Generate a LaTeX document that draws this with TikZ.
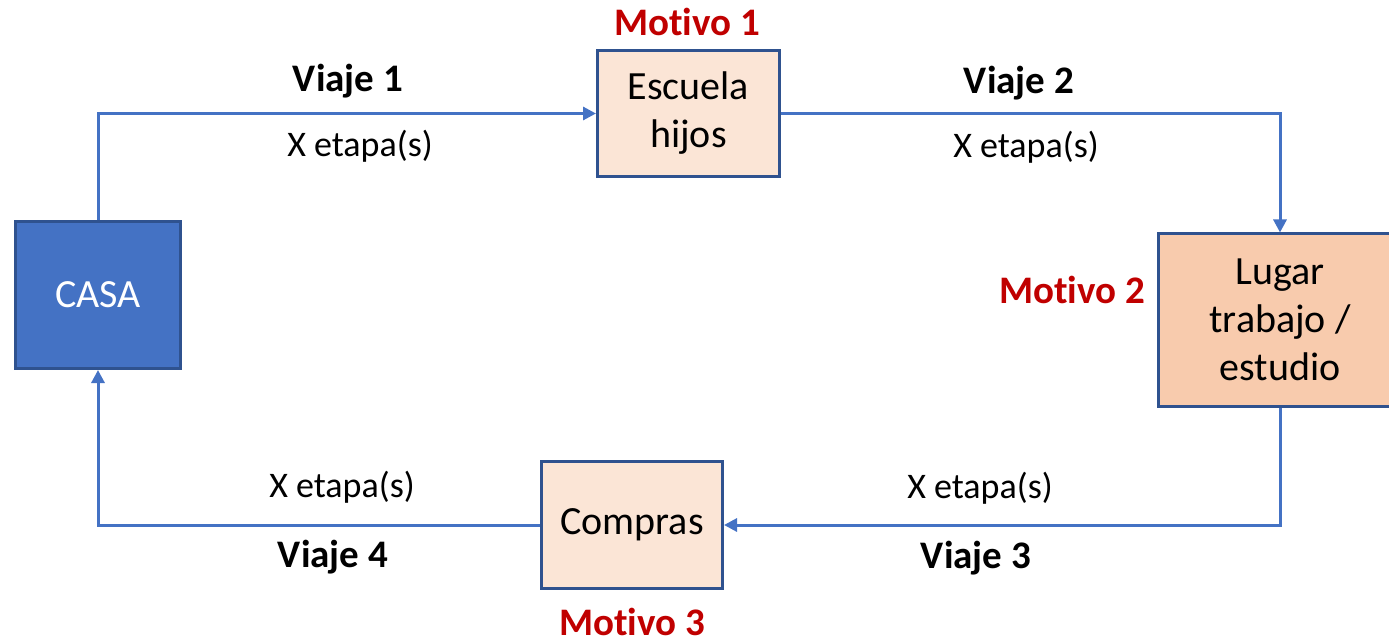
\documentclass[tikz,border=0pt]{standalone}
\usepackage{fontspec}
\setmainfont{Carlito}[Ligatures=NoCommon]
\usetikzlibrary{arrows.meta}
\definecolor{accblue}{HTML}{4472C4}
\definecolor{edgeblue}{HTML}{2F528F}
\definecolor{lightpeach}{HTML}{FBE5D6}
\definecolor{peach}{HTML}{F8CBAD}
\definecolor{motred}{HTML}{C00000}
\tikzset{
  box/.style={draw=edgeblue, line width=3pt, rectangle, align=center, inner sep=0pt,
    font=\fontsize{40}{48}\selectfont},
  casabox/.style={box, fill=accblue, text=white},
  pbox/.style={box, fill=lightpeach},
  dbox/.style={box, fill=peach},
  conn/.style={draw=accblue, line width=3pt, -{Triangle[length=13pt,width=13pt]}},
  viaje/.style={anchor=base, font=\fontsize{39}{42}\selectfont\bfseries},
  etapa/.style={anchor=base, font=\fontsize{36}{42}\selectfont},
  motivo/.style={anchor=base, text=motred, font=\fontsize{39}{42}\selectfont\bfseries}
}
\begin{document}
\begin{tikzpicture}[x=1pt,y=-1pt]
\useasboundingbox (0,0) rectangle (1389,644);
\clip (0,0) rectangle (1389,644);
\node[casabox, minimum width=165pt, minimum height=147pt] (casa) at (98,295) {CASA};
\node[pbox, minimum width=182pt, minimum height=126pt] (esc) at (688.5,113.5) {Escuela\\hijos};
\node[dbox, minimum width=243pt, minimum height=172pt] (lugar) at (1280,320) {Lugar\\trabajo /\\estudio};
\node[pbox, minimum width=181pt, minimum height=127pt] (comp) at (632,525) {Compras};

\draw[conn] (casa.north) |- (esc.west);
\draw[conn] (esc.east) -| (lugar.north);
\draw[conn] (lugar.south) |- (comp.east);
\draw[conn] (comp.west) -| (casa.south);

\node[viaje] (v1) at (348,92) {Viaje 1};
\node[etapa] (e1) at (360,157) {X etapa(s)};
\node[motivo] (m1) at (687,36) {Motivo 1};
\node[viaje] (v2) at (1019,94) {Viaje 2};
\node[etapa] (e2) at (1026,158) {X etapa(s)};
\node[motivo] (m2) at (1072,303) {Motivo 2};
\node[etapa] (e3) at (980,498) {X etapa(s)};
\node[viaje] (v3) at (976,568) {Viaje 3};
\node[etapa] (e4) at (342,497) {X etapa(s)};
\node[viaje] (v4) at (333,567) {Viaje 4};
\node[motivo] (m3) at (632,635) {Motivo 3};
\end{tikzpicture}
\end{document}
